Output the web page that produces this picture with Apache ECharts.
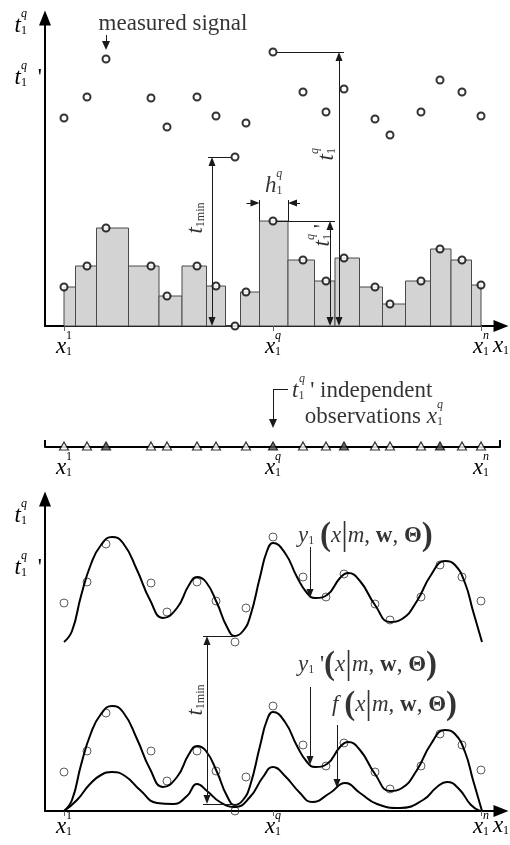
<!DOCTYPE html>
<html>
<head>
<meta charset="utf-8">
<title>measured signal / mixture fit</title>
<script src="https://cdn.jsdelivr.net/npm/echarts@6.0.0/dist/echarts.min.js"></script>
<style>
html, body { margin: 0; padding: 0; background: #fff; }
#chartMain { width: 510px; height: 845px; }
</style>
</head>
<body>
<div id="chartMain"></div>
<script>
// sample positions along x (axis units, 0 = y axis)
var xPos = [19, 42, 61, 106, 122, 152, 171, 190, 201, 228, 258, 281, 299, 330, 345, 376, 395, 417, 436];
// measured signal t1^q
var tSignal = [208, 229, 267, 228, 199, 229, 210, 169, 203, 274, 234, 214, 237, 207, 191, 214, 246, 234, 210];
// signal minus t1min  (t1^q ')
var tShift = [39, 60, 98, 60, 30, 60, 40, 0, 34, 105, 66, 45, 68, 39, 22, 45, 77, 66, 41];
var tMin = 169;
var minIdx = 7;               // sample that defines t1min
var qIdx = 9;                 // the q-th sample
var obsIdx = [2, 9, 12, 16];  // independent observations (dark triangles)

// fitted curves
var y1X = [19, 27, 36, 46, 56, 67, 78, 92, 105, 118, 132, 144, 152, 161, 172, 182, 190, 198, 205, 215,
           222, 228, 240, 252, 262, 270, 282, 295, 303, 315, 330, 345, 357, 372, 386, 400, 410, 420, 428, 437];
var y1Y = [169, 180, 215, 247, 266, 274, 268, 241, 211, 193, 203, 226, 234, 229, 208, 184, 175, 180, 194, 234,
           260, 268, 258, 234, 218, 213, 216, 233, 238, 230, 206, 189, 192, 210, 236, 250, 246, 228, 200, 169];
var y1PrimeY = [0, 11, 46, 78, 97, 105, 99, 72, 42, 24, 34, 57, 65, 60, 39, 15, 6, 11, 25, 65,
                91, 99, 89, 65, 49, 44, 47, 64, 69, 61, 37, 20, 23, 41, 67, 81, 77, 59, 31, 0];
var fX = [19, 32, 45, 56, 67, 80, 95, 112, 128, 142, 152, 162, 175, 190, 205, 218, 228, 240, 255, 267,
          285, 300, 315, 332, 355, 378, 392, 402, 414, 426, 435];
var fY = [0, 11, 27, 36, 39, 35, 21, 8, 7, 15, 27, 20, 9, 4, 14, 34, 44, 35, 18, 9,
          18, 28, 18, 7, 3, 11, 24, 29, 22, 6, 0];

// tick labels under the x axes
var xTickSup = ['1', 'q', 'n'];

var SERIF = '"Liberation Serif", "DejaVu Serif", serif';
var AH = 4.5; // half length of an arrow head

function rs(o) {
	o.fontFamily = SERIF;
	o.color = '#000';
	return o;
}
var RICH = {
	v: rs({fontStyle: 'italic', fontSize: 23, lineHeight: 22}),
	t: rs({fontSize: 23, lineHeight: 22}),
	b: rs({fontSize: 23, fontWeight: 'bold', lineHeight: 22}),
	p: rs({fontSize: 33, fontWeight: 'bold', lineHeight: 22}),
	bar: rs({fontSize: 33, lineHeight: 22}),
	sub: rs({fontSize: 12, lineHeight: 6, verticalAlign: 'bottom'}),
	sup: rs({fontStyle: 'italic', fontSize: 12, lineHeight: 1}),
	sup1: rs({fontSize: 12, lineHeight: 1}),
	gx: {width: 10, lineHeight: 1},
	gt: {width: 7, lineHeight: 1},
	gh: {width: 11, lineHeight: 1},
	gp: {width: 15, lineHeight: 1},
	gp2: {width: 10, lineHeight: 1},
	pr: rs({fontSize: 23, lineHeight: 22, width: 15, align: 'right'}),
	pr2: rs({fontSize: 23, lineHeight: 22, width: 10, align: 'right'})
};

var last = xPos.length - 1;
var xTicks = [xPos[0], xPos[qIdx], xPos[last]];

function xLabel(v) {
	var i = xTicks.indexOf(v);
	if (i < 0) {
		return '{v|x}{sub|1}';
	}
	var s = xTickSup[i];
	return '{gx| }{' + (s === '1' ? 'sup1' : 'sup') + '|' + s + '}\n{v|x}{sub|1}';
}
function tLabel(prime) {
	return '{sup|q}{gp| }\n{v|t}{sub|1}' + (prime ? "{pr|'}" : '{gp| }');
}

/*** histogram bars: each sample owns the span between neighbouring midpoints ***/
var bars = [];
for (var i = 0; i < xPos.length; i++) {
	var l = i === 0 ? xPos[0] : (xPos[i - 1] + xPos[i]) / 2;
	var r = i === last ? xPos[last] : (xPos[i] + xPos[i + 1]) / 2;
	bars.push([l, r, tShift[i]]);
}
var hL = bars[qIdx][0], hR = bars[qIdx][1];

function pairs(xs, ys) {
	var out = [];
	for (var i = 0; i < xs.length; i++) out.push([xs[i], ys[i]]);
	return out;
}
function seg(a, b, arrowA, arrowB, size) {
	size = size || [7, 9];
	return [
		{coord: a, symbol: arrowA ? 'triangle' : 'none', symbolSize: size},
		{coord: b, symbol: arrowB ? 'triangle' : 'none', symbolSize: size}
	];
}
function note(x, y, text, align, rotate) {
	return {
		value: [x, y],
		label: {formatter: text, align: align || 'center', rotate: rotate || 0}
	};
}
function noteSeries(xi, yi, notes, lines) {
	return {
		type: 'scatter', xAxisIndex: xi, yAxisIndex: yi, z: 5,
		symbolSize: 0, silent: true, clip: false,
		label: {show: true, position: 'inside', verticalAlign: 'middle', rich: RICH, color: '#000'},
		data: notes,
		markLine: {
			silent: true, animation: false, symbol: ['none', 'none'],
			label: {show: false},
			lineStyle: {color: '#1a1a1a', width: 1, type: 'solid'},
			emphasis: {disabled: true},
			data: lines
		}
	};
}
function curve(xs, ys) {
	return {
		type: 'line', xAxisIndex: 2, yAxisIndex: 2, z: 4, silent: true,
		smooth: 0.5, showSymbol: false,
		lineStyle: {color: '#000', width: 2},
		data: pairs(xs, ys)
	};
}

function panelX(gi, margin) {
	return {
		type: 'value', gridIndex: gi, min: 0, max: 456,
		axisLine: {show: true, onZero: false, symbol: ['none', 'triangle'], symbolSize: [12, 15],
			lineStyle: {color: '#000', width: 2}},
		axisTick: {show: true, customValues: xTicks, length: 5, lineStyle: {color: '#666', width: 1}},
		axisLabel: {show: true, customValues: xTicks.concat([456]), formatter: xLabel, rich: RICH, margin: margin},
		splitLine: {show: false}
	};
}
function panelY(gi, max, labelVals) {
	return {
		type: 'value', gridIndex: gi, min: 0, max: max,
		axisLine: {show: true, onZero: false, symbol: ['none', 'triangle'], symbolSize: [12, 15],
			lineStyle: {color: '#000', width: 2}},
		axisTick: {show: false},
		axisLabel: {show: true, customValues: labelVals, margin: 3, rich: RICH,
			formatter: function(v) { return tLabel(v === labelVals[1]); }},
		splitLine: {show: false}
	};
}

var stripPts = [];
for (var k = 0; k < xPos.length; k++) {
	if (k === minIdx) continue;
	var dark = obsIdx.indexOf(k) >= 0;
	stripPts.push({value: [xPos[k], 0], itemStyle: {color: dark ? '#555' : '#fff'}});
}

var xq = xPos[qIdx];

var myChart = echarts.init(document.getElementById('chartMain'));
var option = {
	animation: false,
	backgroundColor: '#fff',
	grid: [
		{left: 45, top: 18, width: 456, height: 308, outerBoundsMode: 'none'},
		{left: 45, top: 367, width: 455, height: 80, outerBoundsMode: 'none'},
		{left: 45, top: 499, width: 456, height: 312, outerBoundsMode: 'none'}
	],
	xAxis: [
		panelX(0, 9),
		{
			type: 'value', gridIndex: 1, min: 0, max: 455,
			axisLine: {show: true, onZero: false, lineStyle: {color: '#000', width: 2}},
			axisTick: {show: true, customValues: [0, 455], inside: true, length: 7, lineStyle: {color: '#000', width: 2}},
			axisLabel: {show: true, customValues: xTicks, formatter: xLabel, rich: RICH, margin: 9},
			splitLine: {show: false}
		},
		panelX(2, 4)
	],
	yAxis: [
		panelY(0, 308, [301, 249]),
		{type: 'value', gridIndex: 1, min: 0, max: 80, show: false},
		panelY(2, 312, [296, 244])
	],
	series: [
		// histogram of the shifted signal
		{
			type: 'custom', xAxisIndex: 0, yAxisIndex: 0, z: 2, silent: true,
			renderItem: function(params, api) {
				var p0 = api.coord([api.value(0), api.value(2)]);
				var p1 = api.coord([api.value(1), 0]);
				return {
					type: 'rect',
					shape: {x: p0[0], y: p0[1], width: p1[0] - p0[0], height: p1[1] - p0[1]},
					style: {fill: '#d3d3d3', stroke: '#4a4a4a', lineWidth: 1}
				};
			},
			data: bars
		},
		{
			type: 'scatter', xAxisIndex: 0, yAxisIndex: 0, z: 4, silent: true, clip: false,
			symbol: 'circle', symbolSize: 7,
			itemStyle: {color: '#fff', borderColor: '#000', borderWidth: 2},
			data: pairs(xPos, tSignal)
		},
		{
			type: 'scatter', xAxisIndex: 0, yAxisIndex: 0, z: 4, silent: true, clip: false,
			symbol: 'circle', symbolSize: 7,
			itemStyle: {color: '#fff', borderColor: '#000', borderWidth: 2},
			data: pairs(xPos, tShift)
		},
		noteSeries(0, 0, [
			note(128, 302, '{t|measured signal}'),
			note(151, 108, '{v|t}{sub|1min}', 'center', 90),
			note(281, 178, '{sup|q}\n{v|t}{sub|1}', 'right', 90),
			note(277, 102, "{sup|q}{gp2| }\n{v|t}{sub|1}{pr2|'}", 'right', 90),
			note((hL + hR) / 2, 141, '{gh| }{sup|q}\n{v|h}{sub|1}')
		], [
			seg([xPos[2], 291], [xPos[2], 276 + 4.5], false, true, [8, 9]),
			seg([163, tMin], [xPos[minIdx] - 4, tMin]),
			seg([167, tMin - AH], [167, AH], true, true),
			seg([xq + 4, tSignal[qIdx]], [299, tSignal[qIdx]]),
			seg([294, tSignal[qIdx] - AH], [294, AH], true, true),
			seg([xq + 4, tShift[qIdx]], [290, tShift[qIdx]]),
			seg([285, tShift[qIdx] - AH], [285, AH], true, true),
			seg([hL, tShift[qIdx]], [hL, 126]),
			seg([hR, tShift[qIdx]], [hR, 126]),
			seg([hL - 13, 123], [hL - AH, 123], false, true),
			seg([hR + 12, 123], [hR + AH, 123], false, true)
		]),
		// strip of observations
		{
			type: 'scatter', xAxisIndex: 1, yAxisIndex: 1, z: 4, silent: true, clip: false,
			symbol: 'triangle', symbolSize: [9, 8], symbolOffset: [0, -1],
			itemStyle: {borderColor: '#000', borderWidth: 1.2},
			data: stripPts
		},
		noteSeries(1, 1, [
			note(247, 57, "{gt| }{sup|q}\n{v|t}{sub|1}{t| ' independent}", 'left'),
			note(398, 31, '{sup|q}\n{t|observations }{v|x}{sub|1}', 'right')
		], [
			seg([xq + 15, 58], [xq, 58]),
			seg([xq, 58], [xq, 19 + AH], false, true, [8, 9])
		]),
		// lower panel: samples and fitted curves
		{
			type: 'scatter', xAxisIndex: 2, yAxisIndex: 2, z: 3, silent: true, clip: false,
			symbol: 'circle', symbolSize: 8,
			itemStyle: {color: 'rgba(255,255,255,0)', borderColor: '#333', borderWidth: 1},
			data: pairs(xPos, tSignal).concat(pairs(xPos, tShift))
		},
		curve(y1X, y1Y),
		curve(y1X, y1PrimeY),
		curve(fX, fY),
		noteSeries(2, 2, [
			note(253, 275, '{v|y}{sub|1}{t| }{p|(}{v|x}{bar||}{v|m}{t|, }{b|w}{t|, }{b|Θ}{p|)}', 'left'),
			note(253, 146, "{v|y}{sub|1}{t| '}{p|(}{v|x}{bar||}{v|m}{t|, }{b|w}{t|, }{b|Θ}{p|)}", 'left'),
			note(287, 106, '{v|f}{t| }{p|(}{v|x}{bar||}{v|m}{t|, }{b|w}{t|, }{b|Θ}{p|)}', 'left'),
			note(151, 111, '{v|t}{sub|1min}', 'center', 90)
		], [
			seg([158, 175], [190, 175]),
			seg([158, 7], [192, 7]),
			seg([162, 175 - AH], [162, 7 + AH], true, true),
			seg([265, 264], [265, 213 + AH], false, true),
			seg([265, 124], [265, 46 + AH], false, true),
			seg([292, 86], [292, 23 + AH], false, true)
		])
	]
};
myChart.setOption(option);
</script>
</body>
</html>
